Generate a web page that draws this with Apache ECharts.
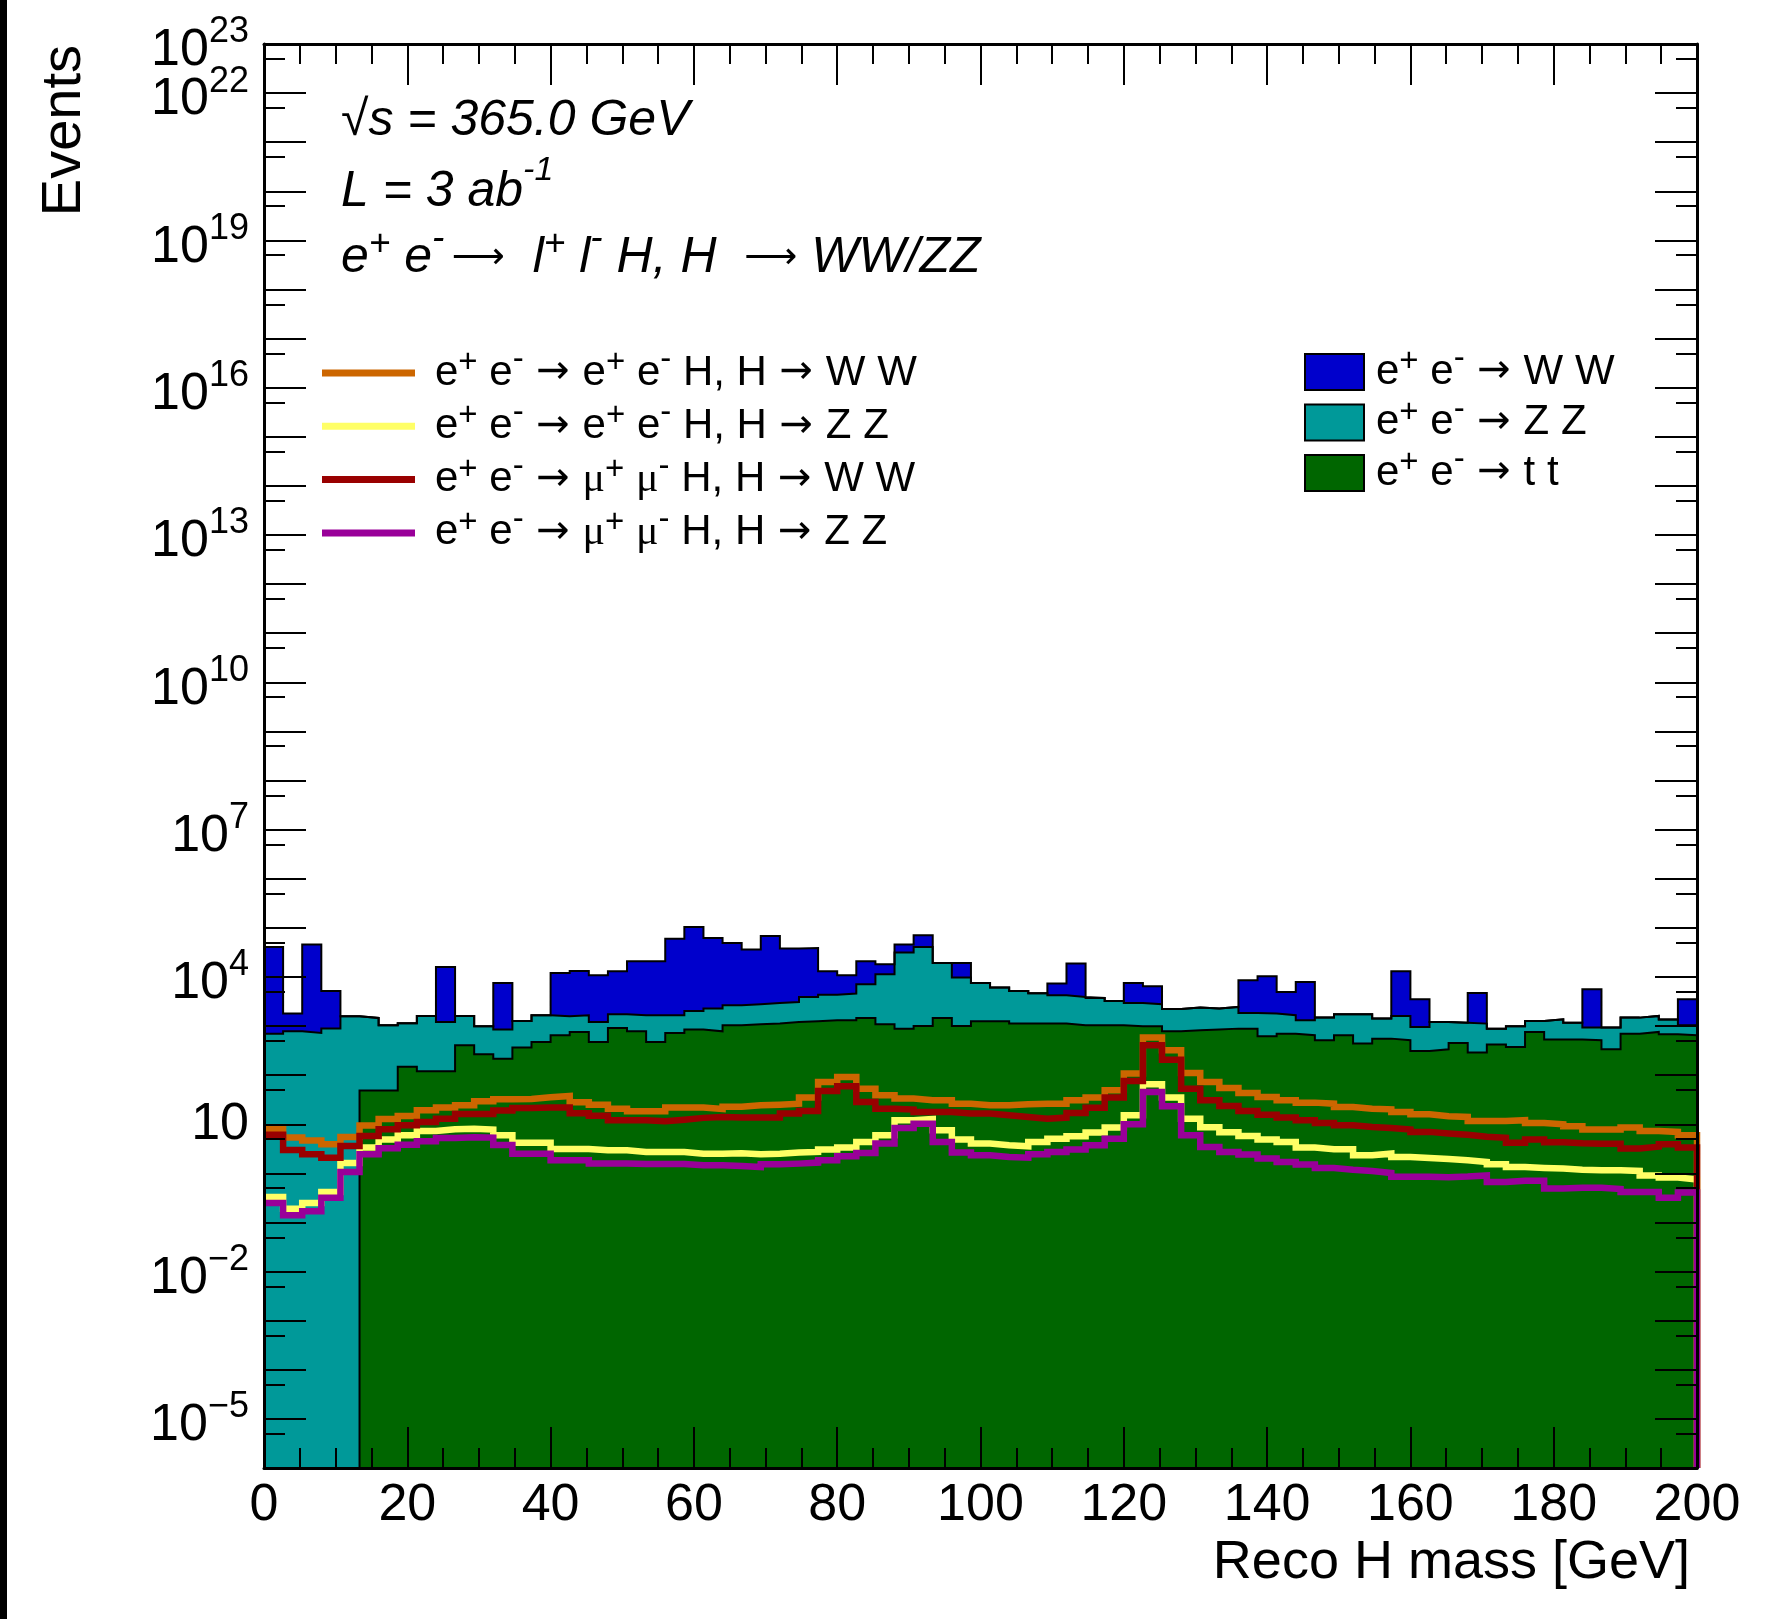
<!DOCTYPE html>
<html>
<head>
<meta charset="utf-8">
<script src="https://cdn.jsdelivr.net/npm/echarts@6/dist/echarts.min.js"></script>
<style>
  html, body { margin: 0; padding: 0; background: #fff; }
  #main { width: 1767px; height: 1619px; }
</style>
</head>
<body>
<div id="main"></div>
<script>
// binning of the histograms (Reco H mass, GeV)
var X_MIN = 0, X_MAX = 200, N_BINS = 75;
var Y_MIN = 1e-6, Y_MAX = 1e23;

// y tick labels shown on the log axis; the top one sits on its own axis (nudged inside the extent)
var yLabelValues = [1e-5, 1e-2, 1e1, 1e4, 1e7, 1e10, 1e13, 1e16, 1e19, 1e22];
var yTopLabel = [0.99999e23];

// backgrounds (stacked: tt at the bottom, then ZZ, then WW)
var ttEvents = [0, 0, 0, 0, 0, 49, 49, 148, 120, 120,
  406, 266, 217, 364, 475, 649, 759, 475, 916, 783,
  475, 724, 847, 783, 1038, 1086, 1122, 1213, 1253, 1312,
  1312, 1466, 1086, 887, 1007, 1466, 1007, 1253, 1253, 1122,
  1122, 1122, 1038, 1038, 1038, 991, 991, 783, 820, 847,
  887, 887, 619, 701, 649, 514, 649, 440, 555, 514,
  311, 337, 453, 288, 419, 376, 759, 530, 530, 514,
  337, 701, 759, 681, 649];
var zzEvents = [701, 783, 724, 891, 1585, 1417, 989, 1000, 1491, 1093,
  1205, 725, 630, 907, 1185, 936, 901, 738, 822, 877,
  1185, 936, 1185, 1487, 1617, 1694, 1836, 1884, 2664, 3053,
  3269, 5630, 10264, 30443, 39923, 17854, 8698, 6298, 4814, 4066,
  3555, 3114, 2879, 2703, 2213, 1967, 1789, 1451, 1557, 1423,
  1568, 962, 1176, 959, 663, 972, 1089, 1298, 864, 1097,
  648, 876, 722, 834, 468, 615, 512, 844, 645, 417,
  594, 785, 852, 674, 389];
var wwEvents = [40039, 1012, 44986, 4297, 0, 0, 0, 0, 0, 14782,
  0, 0, 6704, 0, 0, 10493, 11614, 9626, 11324, 19233,
  19233, 58596, 102468, 60103, 46662, 33278, 65591, 34747, 35077, 8697,
  6258, 13797, 6763, 14274, 29702, 0, 9615, 0, 0, 0,
  0, 3092, 14790, 0, 0, 4593, 3677, 0, 0, 0,
  0, 6721, 8533, 3295, 6613, 0, 0, 0, 0, 11451,
  2557, 0, 0, 3610, 0, 0, 0, 0, 0, 4679,
  0, 0, 0, 0, 2478];

// signals (drawn as lines, not stacked)
var eeHWW = [8.0, 5.4, 4.7, 3.9, 5.5, 9.4, 12.8, 14.8, 19.3, 21.9,
  24.4, 29.4, 32.3, 32.8, 35.5, 37.8, 28.1, 25.1, 20.8, 18.4,
  18.4, 21.9, 21.9, 20.5, 22.7, 24.4, 25.1, 26.3, 34.9, 72.8,
  92.0, 53.2, 38.9, 33.3, 30.8, 30.8, 26.3, 24.4, 24.4, 25.5,
  26.3, 26.3, 30.8, 34.9, 49.2, 108, 582, 321, 111, 72.8,
  55.0, 43.4, 36.1, 30.8, 27.6, 26.3, 22.5, 20.8, 20.2, 17.8,
  16.0, 14.6, 14.1, 11.7, 11.7, 12.1, 10.6, 10.0, 9.1, 7.8,
  7.8, 8.6, 7.3, 7.0, 6.0];
var eeHZZ = [0.33, 0.19, 0.25, 0.42, 1.63, 3.35, 4.9, 6.0, 7.3, 7.9,
  8.15, 7.8, 6.0, 4.2, 4.2, 3.14, 3.14, 2.95, 2.95, 2.73,
  2.73, 2.73, 2.52, 2.52, 2.57, 2.45, 2.52, 2.65, 2.73, 3.05,
  3.35, 4.37, 6.0, 12.1, 12.8, 7.55, 4.9, 4.04, 3.73, 3.56,
  4.37, 5.1, 5.7, 6.8, 8.55, 15.2, 65.3, 34.9, 13.0, 8.7,
  6.9, 5.8, 4.9, 4.37, 3.35, 3.1, 3.1, 2.33, 2.52, 2.16,
  2.06, 1.97, 1.85, 1.71, 1.53, 1.35, 1.29, 1.25, 1.19, 1.16,
  1.16, 1.12, 0.91, 0.82, 0.75];
var mumuHWW = [6.1, 3.0, 2.45, 2.09, 3.6, 5.8, 7.9, 9.6, 11.1, 13.0,
  16.2, 16.2, 19.0, 21.5, 21.9, 21.9, 16.7, 15.0, 12.1, 12.1,
  11.5, 12.4, 13.5, 14.1, 13.7, 13.7, 13.7, 16.5, 18.7, 47.8,
  59.4, 28.5, 20.8, 19.9, 17.8, 17.8, 16.5, 16.5, 15.2, 14.1,
  13.0, 13.7, 17.0, 21.8, 34.9, 76.2, 406, 207, 53.2, 30.8,
  23.6, 18.7, 15.7, 13.7, 12.1, 10.6, 9.6, 8.8, 8.4, 7.8,
  7.0, 6.5, 6.1, 5.6, 5.3, 4.2, 4.9, 4.3, 4.1, 4.0,
  4.0, 3.2, 3.5, 3.9, 3.35];
var mumuHZZ = [0.25, 0.14, 0.17, 0.32, 1.07, 2.45, 3.24, 3.85, 4.5, 5.26,
  5.43, 5.35, 3.8, 2.52, 2.52, 1.85, 1.85, 1.58, 1.58, 1.56,
  1.56, 1.56, 1.46, 1.46, 1.42, 1.35, 1.53, 1.58, 1.66, 1.85,
  2.23, 2.61, 4.04, 8.4, 10.3, 4.37, 2.65, 2.33, 2.16, 2.09,
  2.45, 2.73, 3.05, 3.73, 5.1, 10.0, 45.5, 23.2, 6.0, 3.45,
  2.73, 2.41, 2.0, 1.71, 1.51, 1.29, 1.19, 1.12, 1.02, 0.85,
  0.85, 0.83, 0.86, 0.91, 0.67, 0.71, 0.71, 0.49, 0.51, 0.51,
  0.48, 0.42, 0.42, 0.32, 0.41];

var FONT = 'Liberation Sans, Arial, Helvetica, sans-serif';
var ARROW_FONT = 'DejaVu Sans, sans-serif';

// bin edges
var edges = [];
for (var i = 0; i <= N_BINS; i++) edges.push(X_MIN + (X_MAX - X_MIN) * i / N_BINS);

// histogram contour: one point per bin low edge, closed at the last edge
function stepData(vals, dropAtEnd) {
  var pts = vals.map(function (v, k) { return [edges[k], Math.max(v, Y_MIN)]; });
  pts.push([edges[N_BINS], Math.max(vals[N_BINS - 1], Y_MIN)]);
  if (dropAtEnd) pts.push([edges[N_BINS], Y_MIN]);
  return pts;
}

// stack sums
var cumZZ = ttEvents.map(function (v, k) { return v + zzEvents[k]; });
var cumWW = cumZZ.map(function (v, k) { return v + wwEvents[k]; });

// tick positions of the log axis
var yMajor = [], yMinor = [];
for (var e = -6; e <= 23; e++) {
  yMajor.push(Math.pow(10, e));
  if (e < 23) yMinor.push(5 * Math.pow(10, e));
}

var tickLine = { color: '#000', width: 2 };
var frameLine = { color: '#000', width: 3 };

function powLabels(values) {
  return {
    show: true, margin: 15, customValues: values, color: '#000',
    formatter: function (v) {
      var ex = Math.round(Math.log10(v));
      if (ex === 1) return '{c|10}';
      return '{b|10}{s|' + (ex < 0 ? '\u2212' + (-ex) : ex) + '}';
    },
    rich: {
      c: { fontSize: 52, fontFamily: FONT, color: '#000', lineHeight: 52 },
      b: { fontSize: 52, fontFamily: FONT, color: '#000', lineHeight: 52, padding: [14, 0, 0, 0] },
      s: { fontSize: 36, fontFamily: FONT, color: '#000', lineHeight: 36, padding: [0, 0, 23, 0] }
    }
  };
}

function yAxisDef(pos, ticks, len, line, labels) {
  return {
    type: 'log', logBase: 10, min: Y_MIN, max: Y_MAX, position: pos, z: 10,
    axisLine: { show: line, lineStyle: frameLine },
    axisTick: { show: true, inside: true, length: len, customValues: ticks, lineStyle: tickLine },
    axisLabel: labels ? powLabels(labels) : { show: false },
    splitLine: { show: false }
  };
}

function xAxisDef(pos) {
  return {
    type: 'value', min: X_MIN, max: X_MAX, interval: 20, position: pos, z: 10,
    axisLine: { show: true, lineStyle: frameLine },
    axisTick: { show: true, inside: true, length: 41, lineStyle: tickLine },
    minorTick: { show: true, splitNumber: 4, length: 20, lineStyle: tickLine },
    axisLabel: pos === 'bottom' ? { show: true, margin: 12, fontSize: 52, fontFamily: FONT, color: '#000' } : { show: false },
    splitLine: { show: false }
  };
}

function fillSeries(name, vals, color) {
  return {
    name: name, type: 'line', step: 'end', data: stepData(vals, false),
    symbol: 'none', xAxisIndex: 0, yAxisIndex: 0, z: 2,
    lineStyle: { color: '#000', width: 2, join: 'miter' },
    areaStyle: { color: color, opacity: 1, origin: 'start' },
    itemStyle: { color: color }
  };
}

function lineSeries(name, vals, color) {
  return {
    name: name, type: 'line', step: 'end', data: stepData(vals, true),
    symbol: 'none', xAxisIndex: 0, yAxisIndex: 0, z: 3,
    lineStyle: { color: color, width: 6.5, join: 'miter', cap: 'butt' },
    itemStyle: { color: color }
  };
}

var legendText = {
  eeWW: '{n|e}{p|+}{n| e}{m|-}{r| \u2192 }{n|e}{p|+}{n| e}{m|-}{n| H, H}{r| \u2192 }{n|W W}',
  eeZZ: '{n|e}{p|+}{n| e}{m|-}{r| \u2192 }{n|e}{p|+}{n| e}{m|-}{n| H, H}{r| \u2192 }{n|Z Z}',
  mmWW: '{n|e}{p|+}{n| e}{m|-}{r| \u2192 }{u|\u03bc}{p|+}{n| }{u|\u03bc}{m|-}{n| H, H}{r| \u2192 }{n|W W}',
  mmZZ: '{n|e}{p|+}{n| e}{m|-}{r| \u2192 }{u|\u03bc}{p|+}{n| }{u|\u03bc}{m|-}{n| H, H}{r| \u2192 }{n|Z Z}',
  WW: '{n|e}{p|+}{n| e}{m|-}{r| \u2192 }{n|W W}',
  ZZ: '{n|e}{p|+}{n| e}{m|-}{r| \u2192 }{n|Z Z}',
  tt: '{n|e}{p|+}{n| e}{m|-}{r| \u2192 }{n|t t}'
};
// the raised superscripts make each legend line ~59px tall, hence the negative item gaps
var legendRich = {
  n: { fontSize: 42, fontFamily: FONT, color: '#000', lineHeight: 44 },
  r: { fontSize: 40, fontFamily: ARROW_FONT, color: '#000', lineHeight: 44 },
  u: { fontSize: 42, fontFamily: 'Liberation Serif, serif', color: '#000', lineHeight: 44 },
  p: { fontSize: 33, fontFamily: FONT, color: '#000', lineHeight: 24, padding: [0, 0, 20, 0] },
  m: { fontSize: 33, fontFamily: FONT, color: '#000', lineHeight: 18, padding: [0, 0, 26, 0] }
};

var topRich = {
  i: { fontSize: 50, fontStyle: 'italic', fontFamily: FONT, fill: '#000', lineHeight: 56 },
  a: { fontSize: 37, fontFamily: ARROW_FONT, fill: '#000', lineHeight: 56 },
  ip: { fontSize: 37, fontStyle: 'italic', fontFamily: FONT, fill: '#000', lineHeight: 36, padding: [0, 0, 26, 0] },
  im: { fontSize: 37, fontStyle: 'italic', fontFamily: FONT, fill: '#000', lineHeight: 36, padding: [0, 0, 38, 0] },
  ih: { fontSize: 34, fontStyle: 'italic', fontFamily: FONT, fill: '#000', lineHeight: 36, padding: [0, 0, 43, 0] }
};

var chart = echarts.init(document.getElementById('main'));
chart.setOption({
  animation: false,
  backgroundColor: '#fff',
  grid: { left: 264, right: 70, top: 44, bottom: 151, outerBoundsMode: 'none' },
  xAxis: [xAxisDef('bottom'), xAxisDef('top')],
  yAxis: [
    yAxisDef('left', yMajor, 42, true, yLabelValues),
    yAxisDef('left', yMinor, 21, false, yTopLabel),
    yAxisDef('right', yMajor, 42, true, null),
    yAxisDef('right', yMinor, 21, false, null)
  ],
  legend: [{
    orient: 'vertical', left: 322, top: 343.5, itemGap: -5.7, padding: 0,
    itemWidth: 93, itemHeight: 7, icon: 'rect', selectedMode: false,
    textStyle: { color: '#000', padding: [0, 0, 0, 15], rich: legendRich },
    formatter: function (n) { return legendText[n]; },
    data: [
      { name: 'eeWW', itemStyle: { color: '#cc6600', borderWidth: 0 } },
      { name: 'eeZZ', itemStyle: { color: '#ffff66', borderWidth: 0 } },
      { name: 'mmWW', itemStyle: { color: '#990000', borderWidth: 0 } },
      { name: 'mmZZ', itemStyle: { color: '#990099', borderWidth: 0 } }
    ]
  }, {
    orient: 'vertical', left: 1304, top: 342.5, itemGap: -8.5, padding: 0,
    itemWidth: 59, itemHeight: 36, icon: 'rect', selectedMode: false,
    textStyle: { color: '#000', padding: [0, 0, 0, 7], rich: legendRich },
    formatter: function (n) { return legendText[n]; },
    data: [
      { name: 'WW', itemStyle: { color: '#0000cc', borderColor: '#000', borderWidth: 2 } },
      { name: 'ZZ', itemStyle: { color: '#009999', borderColor: '#000', borderWidth: 2 } },
      { name: 'tt', itemStyle: { color: '#006600', borderColor: '#000', borderWidth: 2 } }
    ]
  }],
  graphic: [
    { type: 'rect', left: 0, top: 0, shape: { x: 0, y: 0, width: 7, height: 1619 }, style: { fill: '#000' } },
    { type: 'text', x: 65, y: 45, rotation: Math.PI / 2,
      style: { text: 'Events', font: '56px ' + FONT, fill: '#000', align: 'right', verticalAlign: 'middle' } },
    { type: 'text', x: 1690, y: 1563,
      style: { text: 'Reco H mass [GeV]', font: '54px ' + FONT, fill: '#000', align: 'right', verticalAlign: 'middle' } },
    { type: 'text', x: 341, y: 121,
      style: { text: '{i|\u221as = 365.0 GeV}', rich: topRich, fill: '#000', align: 'left', verticalAlign: 'middle' } },
    { type: 'text', x: 341, y: 192,
      style: { text: '{i|L = 3 ab}{ih|-1}', rich: topRich, fill: '#000', align: 'left', verticalAlign: 'middle' } },
    { type: 'text', x: 341, y: 258,
      style: { text: '{i|e}{ip|+}{i| e}{im|-}{a|\u2009\u27f6}{i|  l}{ip|+}{i| l}{im|-}{i| H, H  }{a|\u27f6}{i| WW/ZZ}',
               rich: topRich, fill: '#000', align: 'left', verticalAlign: 'middle' } }
  ],
  series: [
    fillSeries('WW', cumWW, '#0000cc'),
    fillSeries('ZZ', cumZZ, '#009999'),
    fillSeries('tt', ttEvents, '#006600'),
    lineSeries('eeWW', eeHWW, '#cc6600'),
    lineSeries('eeZZ', eeHZZ, '#ffff66'),
    lineSeries('mmWW', mumuHWW, '#990000'),
    lineSeries('mmZZ', mumuHZZ, '#990099')
  ]
});
window.onresize = chart.resize;
</script>
</body>
</html>
